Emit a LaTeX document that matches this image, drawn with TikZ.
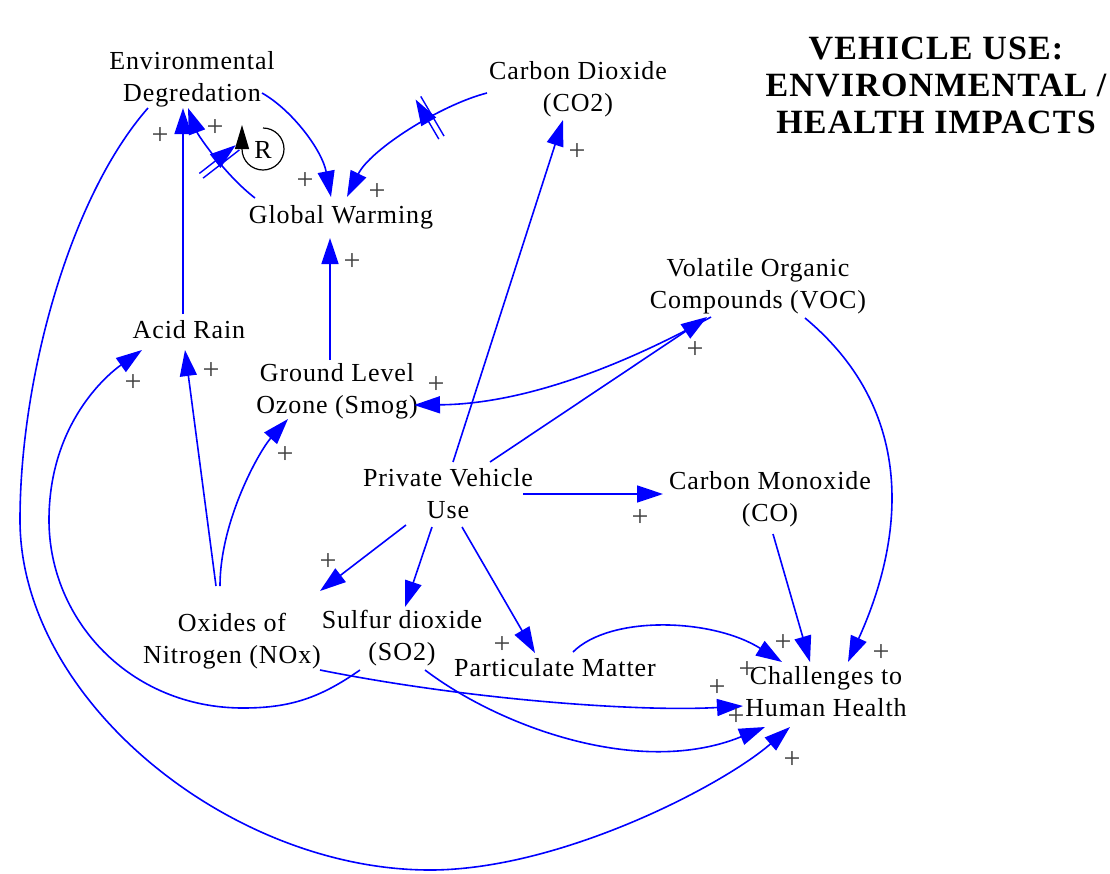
\documentclass[tikz,border=0pt]{standalone}
\usepackage{fontspec}
\setmainfont{Liberation Serif}[LetterSpace=3.5]
\usetikzlibrary{calc,arrows.meta,decorations.markings}

\begin{document}
\begin{tikzpicture}[x=1pt,y=-1pt,
  var/.style={align=center,inner sep=0pt,font=\fontsize{26}{32}\selectfont},
  pol/.style={inner sep=0pt,text=black!75,font=\fontsize{30}{30}\selectfont},
  link/.style={blue,line width=1.6pt,-{Triangle[length=26pt,width=17pt]}},
  delaymark/.style={postaction={decorate},decoration={markings,
    mark=at position #1 with {\draw[blue,line width=1.4pt] (-3,-23) -- (-3,23) (3,-23) -- (3,23);}}}]
\useasboundingbox (0,0) rectangle (1110,873);

\node[var] (envdeg) at (192,79) {Environmental\\Degredation};
\node[var] (co2) at (578,89) {Carbon Dioxide\\(CO2)};
\node[var] (gw) at (341,217) {Global Warming};
\node[var] (acid) at (189,330) {Acid Rain};
\node[var] (ozone) at (337,391) {Ground Level\\Ozone (Smog)};
\node[var] (voc) at (758,286) {Volatile Organic\\Compounds (VOC)};
\node[var] (pvu) at (448,494) {Private Vehicle\\Use};
\node[var] (comon) at (770,499) {Carbon Monoxide\\(CO)};
\node[var] (nox) at (232,641) {Oxides of\\Nitrogen (NOx)};
\node[var] (so2) at (402,638) {Sulfur dioxide\\(SO2)};
\node[var] (pm) at (555,668) {Particulate Matter};
\node[var] (health) at (826,692) {Challenges to\\Human Health};

\node[align=center,inner sep=0pt,font=\bfseries\fontsize{34}{37}\selectfont] (title) at (936,85)
  {VEHICLE USE:\\ENVIRONMENTAL /\\HEALTH IMPACTS};

% loop marker
\node[var] (rsign) at (263,150) {R};
\draw[line width=1.2pt,-{Triangle[length=24pt,width=14pt]}] ($(rsign)+(0,-22)$)
  arc[start angle=-90,end angle=180,radius=21] -- ++(0,-24);

% into environmental degredation and global warming
\draw[link] ($(acid)+(-6,-16)$) -- ($(envdeg)+(-9,29)$);
\draw[link,delaymark=0.45] ($(gw)+(-86,-19)$) .. controls (225,175) and (198,135) .. ($(envdeg)+(-4,29)$);
\draw[link] ($(envdeg)+(70,14)$) .. controls (292,110) and (322,150) .. ($(gw)+(-10,-20)$);
\draw[link,delaymark=0.35] ($(co2)+(-91,4)$) .. controls (440,105) and (370,150) .. ($(gw)+(6,-20)$);
\draw[link] ($(ozone)+(-7,-31)$) -- ($(gw)+(-11,21)$);

% from private vehicle use
\draw[link] ($(pvu)+(5,-32)$) -- ($(co2)+(-15,31)$);
\draw[link] ($(pvu)+(42,-32)$) -- ($(voc)+(-51,31)$);
\draw[link] ($(pvu)+(75,0)$) -- ($(comon)+(-107,-5)$);
\draw[link] ($(pvu)+(-42,31)$) -- ($(nox)+(88,-50)$);
\draw[link] ($(pvu)+(-16,33)$) -- ($(so2)+(3,-31)$);
\draw[link] ($(pvu)+(14,33)$) -- ($(pm)+(-20,-15)$);

\draw[link] ($(voc)+(-47,31)$) .. controls (651,350) and (540,404) .. ($(ozone)+(77,14)$);
\draw[link] ($(voc)+(47,32)$) .. controls (925,418) and (898,552) .. ($(health)+(22,-30)$);

\draw[link] ($(nox)+(-16,-55)$) -- ($(acid)+(-4,20)$);
\draw[link] ($(nox)+(-12,-55)$) .. controls (220,520) and (260,450) .. ($(ozone)+(-49,28)$);
\draw[link] ($(nox)+(88,29)$) .. controls (470,700) and (640,712) .. ($(health)+(-83,14)$);

\draw[link] ($(so2)+(-42,32)$) .. controls (320,698) and (290,708) .. (243,708)
  .. controls (130,708) and (49,620) .. (49,520)
  .. controls (49,430) and (100,380) .. ($(acid)+(-47,20)$);
\draw[link] ($(so2)+(23,32)$) .. controls (500,727) and (640,778) .. ($(health)+(-61,35)$);

% the rest into health
\draw[link] ($(comon)+(3,35)$) -- ($(health)+(-16,-30)$);
\draw[link] ($(pm)+(18,-16)$) .. controls (610,615) and (712,618) .. ($(health)+(-44,-30)$);
\draw[link] ($(envdeg)+(-44,29)$) .. controls (69,198) and (20,380) .. (20,520)
  .. controls (20,700) and (230,870) .. (430,870)
  .. controls (560,870) and (722,786) .. ($(health)+(-36,35)$);

% polarities
\node[pol] (p1) at (160,136) {+};
\node[pol] (p2) at (215,128) {+};
\node[pol] (p3) at (305,181) {+};
\node[pol] (p4) at (377,192) {+};
\node[pol] (p5) at (352,262) {+};
\node[pol] (p6) at (577,152) {+};
\node[pol] (p7) at (695,350) {+};
\node[pol] (p8) at (436,385) {+};
\node[pol] (p9) at (211,371) {+};
\node[pol] (p10) at (133,383) {+};
\node[pol] (p11) at (285,455) {+};
\node[pol] (p12) at (640,518) {+};
\node[pol] (p13) at (328,562) {+};
\node[pol] (p14) at (502,645) {+};
\node[pol] (p15) at (783,643) {+};
\node[pol] (p16) at (881,653) {+};
\node[pol] (p17) at (747,670) {+};
\node[pol] (p18) at (717,688) {+};
\node[pol] (p19) at (736,717) {+};
\node[pol] (p20) at (792,760) {+};

\end{tikzpicture}
\end{document}
